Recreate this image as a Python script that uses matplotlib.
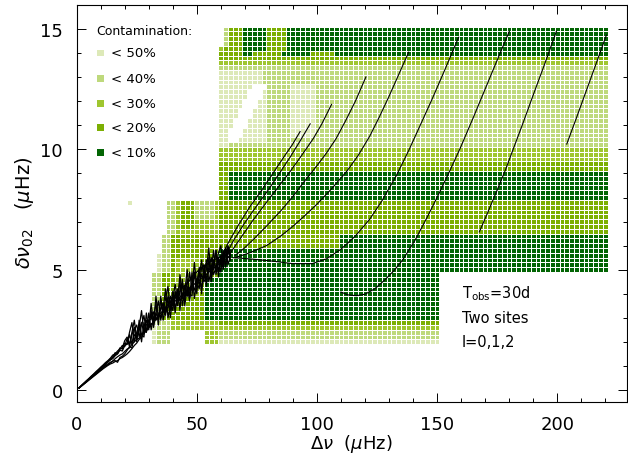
import numpy as np
import matplotlib
matplotlib.use('Agg')
import matplotlib.pyplot as plt
from matplotlib.colors import ListedColormap, BoundaryNorm
from matplotlib.patches import Rectangle

# contamination classes (level 1..5), colours and legend text
level_colors = ['#dde9b8', '#bed97c', '#9fc62f', '#7caf02', '#036504']
level_labels = ['< 50%', '< 40%', '< 30%', '< 20%', '< 10%']

# grid of cells: centres in Delta nu (2 muHz) and delta nu_02 (0.2 muHz)
x_centres = np.arange(22, 221, 2)
y_centres = np.round(np.arange(2.0, 15.01, 0.2), 1)

# blocks: (x from, x to, y from, y to, level), applied in order
blocks = [
    # upper block
    (60, 220, 14.0, 15.0, 5),
    (60, 106, 14.0, 14.0, 4),
    (60, 220, 13.8, 13.8, 4),
    (60, 220, 13.6, 13.6, 3),
    (60, 220, 10.6, 13.4, 2),
    (60, 220, 10.2, 10.4, 2),
    (60, 220, 9.6, 10.0, 3),
    (60, 220, 9.2, 9.4, 4),
    (60, 220, 8.0, 9.0, 5),
    (60, 220, 6.6, 7.8, 4),
    (60, 220, 5.0, 6.4, 5),
    # lower middle block
    (60, 150, 3.0, 4.8, 5),
    (60, 150, 2.8, 2.8, 4),
    (60, 150, 2.6, 2.6, 3),
    (60, 150, 2.2, 2.4, 2),
    (60, 150, 2.0, 2.0, 1),
    # upper left details
    (60, 60, 14.4, 15.0, 0),
    (62, 68, 14.2, 15.0, 4),
    (62, 62, 14.4, 15.0, 2),
    (60, 60, 14.2, 14.2, 3),
    (80, 86, 14.2, 15.0, 4),
    (86, 96, 14.0, 14.0, 5),
    (70, 72, 14.0, 14.0, 5),
    (60, 76, 12.6, 13.2, 1),
    (60, 62, 10.2, 13.2, 1),
    (62, 78, 10.4, 12.6, 1),
    (90, 98, 10.6, 12.6, 1),
    (60, 62, 8.0, 9.0, 4),
    (60, 108, 6.0, 6.4, 4),
    # left block
    (38, 58, 6.6, 7.8, 3),
    (36, 58, 5.8, 6.4, 4),
    (34, 58, 5.0, 5.6, 4),
    (32, 58, 3.0, 4.8, 4),
    (32, 58, 2.0, 2.8, 3),
    (38, 40, 6.6, 7.8, 2),
    (50, 56, 7.2, 7.8, 2),
    (44, 48, 6.8, 7.8, 4),
    (42, 50, 4.0, 5.4, 3),
    (36, 38, 5.0, 6.4, 2),
    (34, 34, 5.0, 5.6, 1),
    (32, 34, 3.0, 4.8, 2),
    (34, 38, 2.0, 2.8, 2),
    (32, 32, 2.0, 2.8, 1),
    (40, 52, 2.0, 2.4, 0),
    (54, 58, 3.0, 4.6, 5),
    (22, 22, 7.8, 7.8, 1),
]

# empty cells of the white hole (y, x from, x to)
hole_cells = [
    (12.6, 74, 78), (12.4, 72, 76), (12.2, 72, 76), (12.0, 70, 74),
    (11.8, 70, 74), (11.6, 68, 72), (11.4, 68, 72), (11.2, 66, 70),
    (11.0, 66, 70), (10.8, 64, 68), (10.6, 64, 68), (10.4, 64, 66),
]

# noisy tracks from the origin, one value per muHz (x = 1..64)
track_x = list(range(1, 65))
track_p = [0.09, 0.18, 0.27, 0.36, 0.45, 0.54, 0.63, 0.72, 0.81, 0.9,
           0.99, 1.08, 1.2, 1.25, 1.38, 1.45, 1.55, 1.75, 1.7, 1.95,
           1.9, 2.4, 2.8, 2.0, 2.4, 2.7, 2.0, 2.8, 2.4, 3.2,
           2.5, 3.0, 3.6, 2.7, 3.9, 2.9, 3.4, 3.8, 3.0, 3.9,
           3.2, 4.2, 3.3, 4.6, 3.5, 4.3, 3.7, 4.9, 3.8, 4.5,
           5.0, 4.0, 5.2, 4.3, 5.5, 4.5, 5.2, 5.8, 4.7, 5.6,
           5.0, 5.9, 5.2, 5.6]
track_q = [0.09, 0.18, 0.28, 0.37, 0.46, 0.55, 0.64, 0.73, 0.83, 0.92,
           1.0, 1.1, 1.18, 1.3, 1.35, 1.55, 1.5, 1.7, 1.85, 1.8,
           2.15, 1.8, 2.3, 2.6, 2.0, 2.9, 2.3, 2.2, 3.2, 2.5,
           3.3, 2.6, 3.2, 3.7, 2.9, 3.4, 4.2, 3.0, 3.5, 4.1,
           3.4, 3.8, 4.5, 3.5, 4.1, 5.0, 3.8, 4.3, 4.8, 4.0,
           5.1, 4.2, 4.7, 5.4, 4.5, 5.0, 5.8, 4.8, 5.4, 4.9,
           5.8, 5.1, 5.9, 5.4]
track_r = [0.085, 0.17, 0.26, 0.34, 0.43, 0.51, 0.6, 0.68, 0.77, 0.85,
           0.93, 1.02, 1.08, 1.15, 1.2, 1.22, 1.15, 1.35, 1.4, 1.5,
           1.65, 1.8, 1.75, 2.3, 2.2, 2.5, 2.8, 2.35, 2.7, 2.9,
           2.95, 3.25, 2.9, 3.1, 3.35, 3.6, 3.2, 3.45, 3.9, 3.5,
           3.8, 4.05, 3.7, 3.95, 4.3, 3.9, 4.2, 4.4, 4.15, 4.6,
           4.4, 4.8, 4.5, 4.7, 4.95, 5.2, 4.8, 5.1, 5.5, 5.2,
           5.4, 5.9, 5.5, 5.6]
track_s = [0.085, 0.17, 0.25, 0.33, 0.42, 0.5, 0.58, 0.66, 0.75, 0.83,
           0.91, 0.99, 1.05, 1.12, 1.2, 1.3, 1.38, 1.45, 1.5, 1.6,
           1.7, 1.75, 1.9, 2.0, 2.1, 2.15, 2.3, 2.4, 2.5, 2.6,
           2.75, 2.8, 2.95, 3.05, 3.1, 3.25, 3.3, 3.45, 3.5, 3.6,
           3.7, 3.75, 3.85, 4.0, 4.05, 4.1, 4.25, 4.3, 4.4, 4.5,
           4.55, 4.65, 4.75, 4.8, 4.9, 5.0, 5.05, 5.15, 5.2, 5.3,
           5.35, 5.45, 5.5, 5.6]
track_t = [0.09, 0.19, 0.28, 0.38, 0.47, 0.57, 0.66, 0.76, 0.85, 0.95,
           1.04, 1.14, 1.22, 1.32, 1.45, 1.5, 1.62, 1.7, 1.75, 2.05,
           2.2, 1.9, 2.4, 2.9, 2.1, 2.6, 3.3, 2.4, 2.9, 2.6,
           3.6, 2.8, 3.2, 2.9, 3.8, 3.2, 3.8, 4.3, 3.3, 3.8,
           4.4, 3.7, 4.8, 3.8, 4.3, 3.9, 4.9, 4.2, 5.3, 4.3,
           4.7, 5.4, 4.6, 5.0, 5.9, 4.7, 5.4, 5.0, 5.7, 6.0,
           5.2, 5.6, 6.0, 5.6]
track_u = [0.09, 0.18, 0.27, 0.35, 0.44, 0.53, 0.62, 0.7, 0.79, 0.88,
           0.97, 1.06, 1.15, 1.25, 1.3, 1.42, 1.5, 1.65, 1.62, 1.85,
           1.9, 2.3, 1.9, 2.5, 2.7, 2.2, 2.7, 3.1, 2.4, 2.9,
           3.1, 2.7, 3.9, 3.0, 3.4, 3.6, 3.1, 3.9, 3.7, 3.3,
           4.1, 3.5, 4.1, 4.5, 3.7, 4.6, 4.0, 3.9, 4.9, 4.5,
           4.2, 5.1, 5.2, 4.5, 5.1, 5.5, 5.0, 5.8, 4.9, 5.5,
           5.6, 5.2, 5.7, 5.8]
track_v = [0.08, 0.16, 0.24, 0.32, 0.4, 0.48, 0.56, 0.64, 0.72, 0.8,
           0.88, 0.95, 1.02, 1.08, 1.12, 1.18, 1.22, 1.3, 1.35, 1.42,
           1.5, 1.6, 1.72, 1.85, 1.95, 2.1, 2.2, 2.35, 2.45, 2.6,
           2.7, 2.85, 2.95, 3.1, 3.2, 3.3, 3.45, 3.55, 3.65, 3.8,
           3.9, 4.0, 4.1, 4.25, 4.35, 4.45, 4.55, 4.7, 4.8, 4.9,
           5.0, 5.05, 5.15, 5.2, 5.3, 5.35, 5.4, 5.45, 5.5, 5.55,
           5.6, 5.6, 5.65, 5.7]
tracks = [track_p, track_q, track_r, track_s, track_t, track_u, track_v]

# smooth curves (Delta nu, delta nu_02)
curve_1 = [(60, 5.5), (63, 6.1), (67, 6.8), (72, 7.6), (77, 8.3), (82, 9.05), (86, 9.65),
           (89.8, 10.2), (93, 10.74)]
curve_2 = [(62, 5.6), (65.5, 6.25), (70, 6.95), (75, 7.66), (80, 8.35), (84.7, 9.05), (89, 9.7),
           (93, 10.35), (97.2, 11.06)]
curve_3 = [(64, 5.7), (68, 6.28), (73, 7.0), (79, 7.8), (84, 8.45), (89, 9.1), (94, 9.8),
           (98.5, 10.45), (102, 11.05), (106.1, 11.87)]
curve_4 = [(66, 5.6), (69.4, 5.86), (74, 6.3), (79.2, 6.83), (85, 7.45), (90.3, 8.08), (95, 8.7),
           (100, 9.32), (104, 9.85), (108, 10.45), (112, 11.2), (116, 12.0), (120.4, 13.01)]
curve_5 = [(66, 5.5), (72, 5.7), (79, 6.0), (85, 6.4), (90.3, 6.83), (95, 7.25), (100, 7.72),
           (106, 8.35), (112.5, 9.1), (117, 9.72), (122, 10.55), (126, 11.35), (130, 12.2),
           (134, 13.1), (138.2, 14.04)]
curve_6 = [(65, 5.5), (72, 5.45), (82, 5.35), (90, 5.25), (98, 5.25), (104, 5.45), (110, 5.85),
           (116, 6.4), (122, 7.1), (127, 7.85), (133, 8.9), (138.2, 9.95), (143, 11.0),
           (148, 12.1), (153, 13.25), (159, 14.66)]
curve_7 = [(110, 4.07), (113, 3.95), (116.5, 3.92), (120, 3.98), (124, 4.2), (128, 4.55),
           (132, 4.95), (136, 5.45), (141, 6.25), (146, 7.2), (151, 8.2), (155.5, 9.15),
           (159.7, 10.06), (165, 11.3), (170, 12.5), (175, 13.7), (180.1, 14.91)]
curve_8 = [(167.6, 6.57), (171, 7.35), (175, 8.3), (178.5, 9.15), (181.9, 10.06), (186, 11.15),
           (190, 12.25), (195, 13.6), (199.7, 14.91)]
curve_9 = [(204, 10.22), (208, 11.3), (212, 12.4), (216, 13.5), (220.5, 14.75)]
curves = [curve_1, curve_2, curve_3, curve_4, curve_5, curve_6, curve_7, curve_8, curve_9]

# build the level map
levels = np.zeros((len(y_centres), len(x_centres)), dtype=int)
for x0, x1, y0, y1, lev in blocks:
    cols = (x_centres >= x0) & (x_centres <= x1)
    rows = (y_centres >= y0 - 1e-6) & (y_centres <= y1 + 1e-6)
    levels[np.ix_(rows, cols)] = lev
for yy, x0, x1 in hole_cells:
    cols = (x_centres >= x0) & (x_centres <= x1)
    rows = np.isclose(y_centres, yy)
    levels[np.ix_(rows, cols)] = 0

x_edges = np.append(x_centres - 1, x_centres[-1] + 1)
y_edges = np.append(y_centres - 0.1, y_centres[-1] + 0.1)

plt.rcParams['font.family'] = ['DejaVu Sans']
plt.rcParams['mathtext.fontset'] = 'dejavusans'

fig = plt.figure(figsize=(6.28, 4.60), dpi=100)
ax = fig.add_axes([0.1221, 0.1239, 0.876, 0.863])

cmap = ListedColormap(level_colors)
norm = BoundaryNorm([0.5, 1.5, 2.5, 3.5, 4.5, 5.5], cmap.N)
ax.pcolormesh(x_edges, y_edges, np.ma.masked_equal(levels, 0), cmap=cmap, norm=norm,
              edgecolors='white', linewidth=0.45, zorder=1)

for tr in tracks:
    ax.plot(track_x, tr, color='black', lw=0.9, zorder=3)
for cv in curves:
    cx, cy = zip(*cv)
    ax.plot(cx, cy, color='black', lw=0.8, zorder=3)

# legend drawn as in the figure
ax.text(8.0, 14.93, 'Contamination:', fontsize=9, va='center', ha='left', zorder=4)
legend_y = [14.01, 12.96, 11.92, 10.92, 9.88]
for col, lab, ly in zip(level_colors, level_labels, legend_y):
    ax.add_patch(Rectangle((8.6, ly - 0.14), 2.8, 0.28, facecolor=col, edgecolor='none', zorder=4))
    ax.text(14.2, ly, lab, fontsize=9.5, va='center', ha='left', zorder=4)

ax.text(160.4, 4.06, r'T$_{\rm obs}$=30d', fontsize=10.5, va='center', ha='left')
ax.text(160.4, 3.03, 'Two sites', fontsize=10.5, va='center', ha='left')
ax.text(160.4, 2.0, 'l=0,1,2', fontsize=10.5, va='center', ha='left')

ax.set_xlim(0, 229)
ax.set_ylim(-0.5, 16)
ax.set_xticks([0, 50, 100, 150, 200])
ax.set_xticks(np.arange(0, 229, 10), minor=True)
ax.set_yticks([0, 5, 10, 15])
ax.set_yticks(np.arange(0, 16.1, 1), minor=True)
ax.tick_params(which='both', direction='in', top=True, right=True, width=0.7, labelsize=13)
ax.tick_params(which='major', length=6.5)
ax.tick_params(which='minor', length=3.2)
ax.tick_params(axis='x', pad=9)
ax.tick_params(axis='y', pad=10)
for sp in ax.spines.values():
    sp.set_linewidth(0.8)

ax.set_xlabel(r'$\Delta\nu$  ($\mu$Hz)', fontsize=13)
ax.set_ylabel(r'$\delta\nu_{02}$   ($\mu$Hz)', fontsize=14)
ax.xaxis.set_label_coords(0.5, -0.075)
ax.yaxis.set_label_coords(-0.074, 0.48)

fig.savefig('out.png', dpi=100)
